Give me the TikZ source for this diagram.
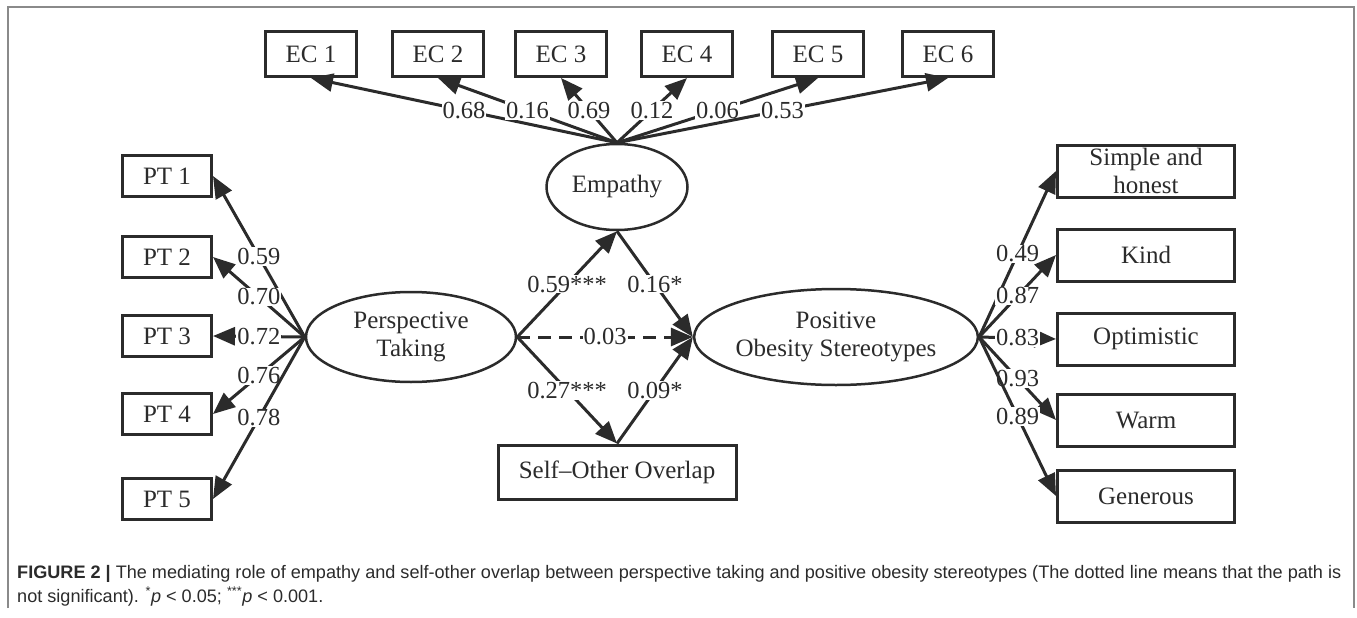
\documentclass[tikz,border=0pt]{standalone}
\usepackage{fontspec}
\setmainfont{Liberation Serif}
\newfontfamily\capfont{Liberation Sans}
\usepackage{xcolor}
\usetikzlibrary{arrows.meta,shapes.geometric}
\definecolor{ink}{HTML}{2B2B2B}
\definecolor{framegray}{HTML}{8A8A8A}

\begin{document}
\begin{tikzpicture}[x=1pt, y=-1pt,
  obs/.style={draw=ink, line width=3pt, inner sep=0pt, text=ink, align=center,
    font=\fontsize{25}{28}\selectfont},
  lat/.style={ellipse, draw=ink, line width=2.5pt, inner sep=0pt, text=ink, align=center,
    font=\fontsize{25}{28}\selectfont},
  path/.style={draw=ink, line width=3pt, -{Triangle[length=22pt,width=18pt]}},
  coef/.style={fill=white, inner sep=1pt, text=ink, font=\fontsize{24.5}{28}\selectfont}]
  \useasboundingbox (0,0) rectangle (1357,618);
  % frame
  \draw[framegray, line width=2pt] (7.5,608) |- (1354,7.5) -- (1354,608);
  % latent variables
  \node[lat, minimum width=141pt, minimum height=86pt] (emp) at (617,187) {Empathy};
  \node[lat, minimum width=210pt, minimum height=90pt] (pte) at (411,337) {Perspective\\Taking};
  \node[lat, minimum width=244pt, minimum height=96pt] (pos) at (836,337) {Positive\\Obesity Stereotypes};
  \node[obs, minimum width=238pt, minimum height=54pt] (soo) at (617,472) {Self--Other Overlap};
  % Empathy items
  \foreach \lbl/\xx/\wt [count=\i] in {EC 1/311/0.68, EC 2/438/0.16, EC 3/561/0.69,
      EC 4/687/0.12, EC 5/818/0.06, EC 6/948/0.53} {
    \node[obs, minimum width=91pt, minimum height=45pt] (ec\i) at (\xx,54) {\lbl};
    \draw[path] (emp.north) -- node[coef] {\wt} (ec\i.south);
  }
  % Perspective taking items
  \foreach \lbl/\yy/\wt [count=\i] in {PT 1/176/0.59, PT 2/257/0.70, PT 3/336/0.72,
      PT 4/414/0.76, PT 5/499/0.78} {
    \node[obs, minimum width=89pt, minimum height=41pt] (pt\i) at (167,\yy) {\lbl};
    \draw[path] (pte.west) -- node[coef] {\wt} (pt\i.east);
  }
  % Stereotype items
  \foreach \lbl/\yy/\wt [count=\i] in {Simple and\\honest/171/0.49, Kind/255/0.87,
      Optimistic/339/0.83, Warm/420/0.93, Generous/496/0.89} {
    \node[obs, minimum width=177pt, minimum height=52pt] (os\i) at (1146,\yy) {\lbl};
    \draw[path] (pos.east) -- node[coef] {\wt} (os\i.west);
  }
  % structural paths
  \draw[path] (pte.east) -- node[coef] {0.59***} (emp.south);
  \draw[path] (emp.south) -- node[coef] {0.16*} (pos.west);
  \draw[path] (pte.east) -- node[coef] {0.27***} (soo.north);
  \draw[path] (soo.north) -- node[coef] {0.09*} (pos.west);
  \draw[path, dash pattern=on 13pt off 8pt] (pte.east) -- node[coef] {0.03} (pos.west);
  % caption
  \node[anchor=base west, inner sep=0pt, text=ink, font=\capfont\fontsize{18.1}{24}\selectfont]
    (capone) at (17,578) {\textbf{FIGURE 2 |} The mediating role of empathy and self-other overlap between perspective taking and positive obesity stereotypes (The dotted line means that the path is};
  \node[anchor=base west, inner sep=0pt, text=ink, font=\capfont\fontsize{18.1}{24}\selectfont]
    (captwo) at (17,602) {not significant). \textsuperscript{*}\textit{p} < 0.05; \textsuperscript{***}\textit{p} < 0.001.};
\end{tikzpicture}
\end{document}
